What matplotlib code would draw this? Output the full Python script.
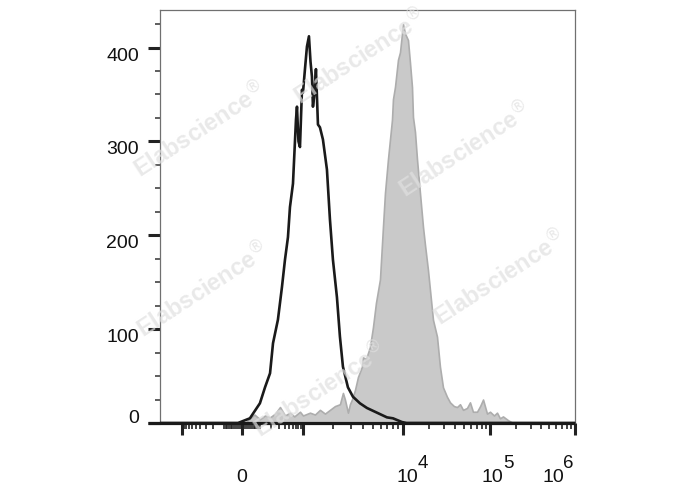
import numpy as np
import matplotlib
matplotlib.use('Agg')
import matplotlib.pyplot as plt
from matplotlib.ticker import FixedLocator, NullFormatter

plt.rcParams['font.family'] = ['Liberation Sans', 'DejaVu Sans']

# --- data (fluorescence intensity, event count) ---
control_x = [-1660, -20, 40, 100, 139, 186, 219, 284, 350, 408, 474, 524, 609, 707,
             743, 800, 862, 951, 1000, 1047, 1096, 1148, 1190, 1230, 1259, 1300, 1349,
             1413, 1479, 1585, 1738, 1862, 1995, 2188, 2344, 2512, 2818, 3162, 3715,
             4365, 5495, 6918, 7943, 9772, 11000, 1e6]
control_y = [0, 0, 5, 21, 38, 53, 85, 110, 145, 174, 198, 230, 255, 323,
             337, 300, 294, 355, 352, 377, 401, 412, 385, 369, 337, 350, 377,
             318, 315, 302, 270, 217, 174, 134, 92, 60, 38, 28, 21,
             16, 11, 6, 5, 1, 0, 0]

stained_x = [15, 40, 65, 100, 139, 186, 245, 316, 408, 524, 650, 862, 1000, 1175,
             1318, 1479, 1660, 1862, 2089, 2344, 2512, 2630, 2818, 2951, 3090, 3311,
             3548, 3890, 3981, 4266, 4677, 5012, 5370, 5888, 6310, 6607, 7079, 7762,
             7943, 8318, 8913, 9333, 10000, 10545, 11414, 12030, 12690, 13030, 13740,
             14490, 15670, 16980, 17890, 19370, 22120, 24600, 26600, 28830, 32000,
             34700, 38500, 41750, 45200, 48950, 54400, 58870, 63700, 70900, 77000,
             83200, 92400, 100000, 111400, 120900, 131000, 142100, 163000, 186500]
stained_y = [0, 5, 9, 4, 8, 6, 10, 17, 8, 11, 7, 12, 8, 11,
             9, 14, 10, 14, 18, 20, 32, 25, 11, 20, 25, 35,
             49, 60, 70, 68, 81, 102, 128, 153, 209, 245, 281, 323,
             345, 358, 387, 395, 425, 415, 408, 384, 358, 326, 310,
             281, 245, 209, 190, 163, 110, 92, 60, 38, 28,
             22, 18, 17, 20, 14, 16, 22, 12, 12, 18,
             25, 10, 12, 8, 11, 5, 7, 3, 0]

y_major = [0, 100, 200, 300, 400]
y_minor = [25, 50, 75, 125, 150, 175, 225, 250, 275, 325, 350, 375, 425]
x_major = [-1000, 0, 1000, 1e4, 1e5, 1e6]
x_labels = ['0', '10', '10', '10']
x_label_at = [0, 1e4, 1e5, 1e6]
x_exps = ['', '4', '5', '6']

# --- biexponential-like display scale (anchored at the decade ticks) ---
LN10 = np.log(10)
dec = np.array([-1e4, -1e3, 0, 1e3, 1e4, 1e5, 1e6])
U = np.arcsinh(dec / 100) / LN10
P = np.array([82, 182, 242, 303, 403, 490, 575], dtype=float)
U = np.concatenate([[-10], U, [10]])
P = np.concatenate([[P[0] - 100 * (U[1] + 10)], P, [P[-1] + 85 * (10 - U[-2])]])


def forward(x):
    return np.interp(np.arcsinh(np.asarray(x, float) / 100) / LN10, U, P)


def inverse(p):
    return 100 * np.sinh(np.interp(np.asarray(p, float), P, U) * LN10)


fig = plt.figure(figsize=(6.88, 4.9), dpi=100)
ax = fig.add_axes([160 / 688, 1 - 423 / 490, 415 / 688, 413 / 490])
ax.set_xscale('function', functions=(forward, inverse))

ax.fill_between(stained_x, stained_y, 0, facecolor='#c9c9c9', edgecolor='#adadad',
                linewidth=1.2, zorder=2)
ax.plot(control_x, control_y, color='#1a1a1a', linewidth=1.9, zorder=3)

ax.set_xlim(-1660, 1e6)
ax.set_ylim(0, 440)

# y axis
ax.yaxis.set_major_locator(FixedLocator(y_major))
ax.yaxis.set_minor_locator(FixedLocator(y_minor))
ax.set_yticklabels([str(v) for v in y_major])
ax.tick_params(axis='y', which='major', length=8.6, width=2.2, color='#222222',
               labelsize=14, pad=6.5, labelcolor='#111111')
ax.tick_params(axis='y', which='minor', length=3.6, width=1.1, color='#333333')
for lbl in ax.get_yticklabels():
    lbl.set_va('top')
ax.get_yticklabels()[0].set_va('baseline')

# x axis ticks
minors = [m * 10 ** k for k in range(1, 6) for m in range(2, 10)]
minors += [-m * 10 ** k for k in range(1, 3) for m in range(1, 10)]
minors += [10, 100]
ax.xaxis.set_major_locator(FixedLocator(x_major))
ax.xaxis.set_minor_locator(FixedLocator(sorted(set(minors))))
ax.xaxis.set_major_formatter(NullFormatter())
ax.xaxis.set_minor_formatter(NullFormatter())
ax.tick_params(axis='x', which='major', length=8.6, width=2.2, color='#222222')
ax.tick_params(axis='x', which='minor', length=4.6, width=1.2, color='#222222')

# x labels: "0" and "10" with full-size exponents
offsets = [0, -6, -8, -33]
for val, txt, exp, dx in zip(x_label_at, x_labels, x_exps, offsets):
    ha = 'center' if exp == '' else 'left'
    ax.annotate(txt, xy=(val, 0), xycoords=('data', 'axes fraction'),
                xytext=(dx * 0.72, -42.5), textcoords='offset points',
                ha=ha, va='baseline', fontsize=14, color='#111111',
                annotation_clip=False)
    if exp:
        ax.annotate(exp, xy=(val, 0), xycoords=('data', 'axes fraction'),
                    xytext=((dx + 21) * 0.72, -32.4), textcoords='offset points',
                    ha='left', va='baseline', fontsize=13.5, color='#111111',
                    annotation_clip=False)

# spines
for s in ['left', 'top', 'right']:
    ax.spines[s].set_color('#707070')
    ax.spines[s].set_linewidth(0.9)
ax.spines['bottom'].set_visible(False)
ax.plot([-12 / 415, 1], [0, 0], transform=ax.transAxes, color='#1a1a1a',
        linewidth=2.3, clip_on=False, zorder=4, solid_capstyle='butt')

# watermarks
marks = [(200, 130), (360, 57), (465, 150), (203, 290), (500, 278), (320, 390)]
for mx, my in marks:
    fig.text(mx / 688, 1 - my / 490, r'Elabscience$^{\circledR}$', rotation=33,
             ha='center', va='center', fontsize=17, fontweight='bold',
             color='#e0e0e0', alpha=0.7, zorder=5)

fig.savefig('out.png', dpi=100)
